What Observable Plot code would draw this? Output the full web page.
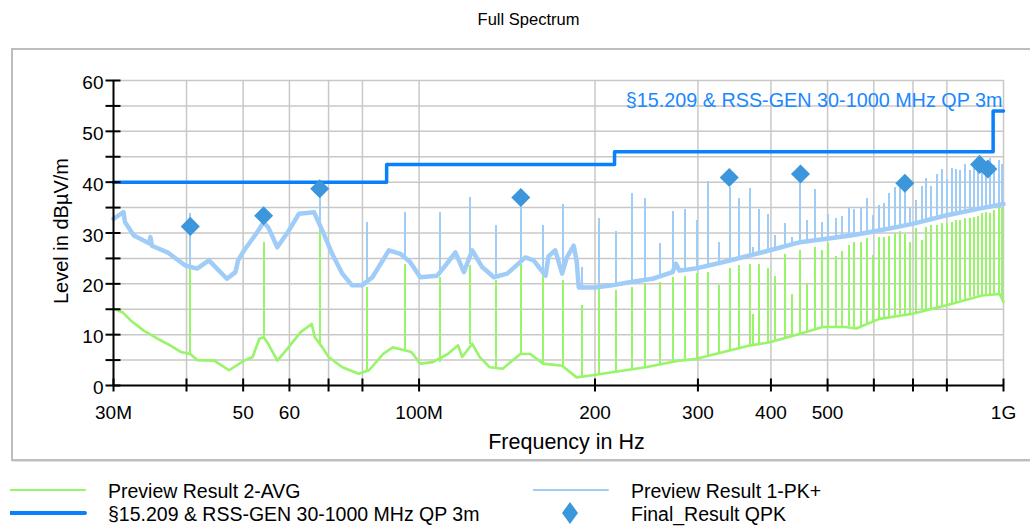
<!DOCTYPE html>
<html>
<head>
<meta charset="utf-8">
<script src="https://cdn.jsdelivr.net/npm/d3@7"></script>
<script src="https://cdn.jsdelivr.net/npm/@observablehq/plot@0.6"></script>
<style>
  html, body { margin: 0; padding: 0; background: #fff; }
  #wrap { position: relative; width: 1030px; height: 527px; overflow: hidden; font-family: 'Liberation Sans', Arial, sans-serif; }
  #frame { position: absolute; left: 11px; top: 48px; width: 1040px; height: 409px; border: 2px solid #bdbdbd; box-shadow: 1px 1px 0 #e2e2e2; pointer-events: none; }
  .lg { position: absolute; font-size: 19.5px; color: #000; white-space: nowrap; line-height: 22px; }
  .sw { position: absolute; }
</style>
</head>
<body>
<div id="wrap"></div>
<script>
// ---------- data ----------
const title = "Full Spectrum";
const xTitle = "Frequency in Hz";
const yTitle = "Level in dBµV/m";
const limitName = "§15.209 & RSS-GEN 30-1000 MHz QP 3m";
const avgName = "Preview Result 2-AVG";
const pkName = "Preview Result 1-PK+";
const qpkName = "Final_Result QPK";

const xDomain = [30, 1000];   // MHz
const yDomain = [0, 60];      // dBµV/m
const xTickFreqs = [30, 40, 50, 60, 70, 80, 100, 200, 300, 400, 500, 600, 700, 800, 1000];
const xGridFreqs = [40, 50, 60, 70, 80, 100, 200, 300, 400, 500, 600, 700, 800, 1000];
const xLabelFreqs = [30, 50, 60, 80, 100, 200, 300, 400, 500, 800, 1000];
const xLabels = ["30M", "50", "60", "80", "100M", "200", "300", "400", "500", "800", "1G"];
const yTickVals = [0, 5, 10, 15, 20, 25, 30, 35, 40, 45, 50, 55, 60];
const yGridVals = [5, 10, 15, 20, 25, 30, 35, 40, 45, 50, 55, 60];
const yLabelVals = [0, 10, 20, 30, 40, 50, 60];

// Preview Result 1-PK+ (underlying trace)
const pkFreq = [30, 31.2, 31.4, 32.5, 34.5, 34.7, 34.9, 37.1, 39.8, 41.7, 43.7, 45.1, 46.9, 48.5, 49.0, 50.2, 52.6, 54.2, 55.2, 57.2, 59.9, 62.3, 66.1, 68.3, 71.0, 73.9, 76.8, 79.8, 83.2, 88.8, 92.9, 96.5, 100.5, 107.4, 110.9, 115.4, 119.3, 123.3, 128.2, 134.3, 141.5, 152, 157, 164.6, 166.5, 171, 175.7, 179, 183.9, 186, 187.6, 200, 213.9, 228.9, 250.9, 271.5, 275, 279, 297, 332, 398.6, 449, 548, 612.7, 699, 793, 909, 1000];
const pkLevel = [32.8, 34.1, 32.1, 29.5, 28.0, 29.2, 27.5, 26.2, 23.6, 23.0, 24.6, 23.0, 21.0, 22.3, 24.6, 26.6, 29.8, 32.1, 31.1, 27.2, 30.5, 33.8, 34.1, 30.5, 25.9, 22.0, 19.7, 19.7, 21.3, 26.6, 25.9, 24.3, 21.3, 21.6, 23.6, 26.2, 22.3, 26.6, 23.3, 21.3, 22.0, 25.2, 24.6, 21.6, 25.4, 26.6, 22.0, 25.2, 27.5, 24.6, 19.3, 19.3, 19.7, 20.3, 21.0, 22.3, 24.0, 22.6, 23.0, 24.3, 26.6, 28.2, 29.5, 30.5, 31.8, 33.4, 34.8, 35.7];

// Preview Result 2-AVG (underlying trace)
const avgFreq = [30, 31.1, 32.1, 33.8, 36.1, 37.5, 39.1, 40.6, 41.7, 44.6, 47.3, 50.2, 51.9, 53.3, 54.2, 55.2, 57.2, 59.5, 62.7, 65.5, 66.3, 68.3, 70, 73.9, 78.8, 82.1, 86.8, 90.1, 94.8, 97, 100.5, 105.5, 112, 116.6, 118.5, 123.3, 127, 132, 139, 149, 155, 163, 175.7, 186, 198, 214, 244, 279, 297, 332, 369, 398, 449, 490, 537, 560, 613, 699, 793, 918, 985, 1000];
const avgLevel = [15.1, 14.4, 12.8, 10.8, 8.9, 7.9, 6.6, 6.2, 5.0, 4.9, 3.0, 4.9, 5.6, 9.2, 9.5, 8.2, 4.9, 7.2, 10.5, 12.1, 9.5, 7.5, 5.6, 3.6, 2.3, 3.0, 6.2, 7.5, 6.9, 6.6, 4.3, 4.6, 6.2, 7.9, 5.6, 8.2, 5.6, 3.6, 3.3, 6.2, 6.2, 4.3, 3.9, 1.6, 2.0, 2.6, 3.6, 4.9, 5.2, 6.6, 7.9, 8.5, 10.2, 11.5, 11.5, 11.2, 13.1, 14.1, 15.7, 17.7, 18.0, 16.4];

// narrowband spikes: frequency, AVG floor/top, PK floor/top
const spikeFreq    = [40.6, 54.2, 67.8, 81.4, 94.6, 108.4, 122.1, 135.6, 149.3, 163, 176.5, 190.3, 203, 217, 231, 244, 258, 271.5, 285, 299, 312.5, 326, 340, 353, 368, 372, 381, 395, 407, 422, 434, 449, 461, 475, 489, 501, 516, 530, 543, 554, 571, 585, 598, 613, 624, 638, 652, 665, 678, 693, 709, 724, 738, 753, 770, 785, 801, 815, 830, 844, 859, 875, 890, 905, 920, 934, 950, 965, 982, 995];
const spikeAvgBase = [6.0, 9.5, 8.0, 3.0, 6.9, 4.6, 8.0, 3.5, 6.2, 4.3, 3.9, 1.7, 2.2, 2.6, 3.2, 3.6, 4.0, 4.6, 5.0, 5.2, 5.7, 6.3, 6.8, 7.3, 7.8, 7.9, 8.0, 8.4, 8.8, 9.4, 9.8, 10.2, 10.6, 11.0, 11.4, 11.5, 11.6, 11.7, 11.6, 11.3, 11.5, 12.0, 12.5, 13.1, 13.3, 13.5, 13.7, 13.9, 14.0, 14.1, 14.4, 14.7, 15.0, 15.2, 15.4, 15.6, 15.8, 16.1, 16.4, 16.7, 17.0, 17.3, 17.5, 17.7, 17.7, 17.8, 17.9, 18.0, 17.8, 16.8];
const spikeAvgTop  = [23.3, 28.2, 31.1, 19.3, 23.9, 21.3, 23.6, 20.7, 23.9, 21.6, 20.7, 15.7, 19.0, 18.7, 19.3, 20.0, 20.3, 21.3, 21.4, 22.0, 22.3, 19.7, 23.0, 23.6, 23.9, 14.0, 23.9, 23.0, 21.4, 25.8, 18.0, 26.6, 20.0, 27.1, 26.6, 27.9, 25.4, 26.4, 27.5, 28.2, 28.2, 29.0, 25.6, 29.1, 29.1, 29.3, 30.0, 30.2, 29.8, 28.2, 30.8, 28.5, 31.1, 31.5, 31.5, 31.9, 31.9, 32.1, 32.5, 32.5, 32.8, 32.8, 33.1, 33.2, 33.8, 34.1, 33.9, 34.4, 34.8, 35.1];
const spikePkBase  = [23.3, 32.1, 30.5, 19.8, 25.0, 21.6, 25.5, 21.3, 24.5, 21.6, 22.5, 19.3, 19.5, 19.7, 20.3, 20.8, 21.2, 22.3, 22.6, 22.8, 23.3, 24.0, 24.4, 24.8, 25.2, 25.3, 25.7, 26.4, 26.8, 27.3, 27.7, 28.1, 28.3, 28.5, 28.8, 29.0, 29.1, 29.2, 29.3, 29.5, 29.8, 30.1, 30.3, 30.5, 30.7, 31.0, 31.2, 31.4, 31.6, 31.8, 32.0, 32.2, 32.5, 32.7, 33.0, 33.2, 33.5, 33.7, 33.9, 34.0, 34.2, 34.4, 34.6, 34.8, 35.0, 35.1, 35.3, 35.5, 35.6, 35.7];
const spikePkTop   = [33.8, 33.4, 37.5, 32.1, 34.0, 34.1, 37.0, 31.5, 36.5, 31.5, 35.7, 23.3, 32.8, 30.2, 37.8, 36.7, 27.9, 34.2, 34.6, 32.5, 40.2, 28.2, 39.0, 36.7, 38.8, 27.1, 34.6, 33.6, 29.5, 31.8, 29.2, 40.5, 32.5, 38.5, 32.1, 33.6, 32.8, 33.2, 35.0, 34.6, 35.0, 36.7, 33.4, 35.4, 35.9, 37.8, 38.9, 39.7, 38.4, 34.9, 36.4, 39.2, 40.7, 39.2, 41.5, 42.4, 40.5, 42.6, 42.4, 42.2, 43.5, 42.3, 42.8, 43.9, 44.4, 43.9, 44.6, 43.3, 44.3, 43.5];

// §15.209 limit (step after each frequency)
const limitFreq = [30, 88, 216, 960, 1000];
const limitLevel = [40, 43.5, 46, 54, 54];

// Final_Result QPK
const qpkFreq = [40.6, 54.2, 67.6, 149.3, 339.4, 449.4, 678, 910, 940];
const qpkLevel = [31.3, 33.4, 38.7, 37.0, 40.9, 41.6, 39.8, 43.5, 42.6];

// ---------- styles ----------
const cAvg = "#98f468", cPk = "#a0ccf8", cLimit = "#0a80fa", cQpk = "#3b96dc", cGrid = "#c8c8c8";

// ---------- tables ----------
const pk = pkFreq.map((f, i) => ({f, v: pkLevel[i]}));
const avg = avgFreq.map((f, i) => ({f, v: avgLevel[i]}));
const spikes = spikeFreq.map((f, i) => ({f, a0: spikeAvgBase[i], a1: spikeAvgTop[i], p0: spikePkBase[i], p1: spikePkTop[i]}));
const limit = limitFreq.map((f, i) => ({f, v: limitLevel[i]}));
const qpk = qpkFreq.map((f, i) => ({f, v: qpkLevel[i]}));
const labelMap = new Map(xLabelFreqs.map((f, i) => [f, xLabels[i]]));

const chart = Plot.plot({
  width: 1030,
  height: 527,
  marginLeft: 113,
  marginRight: 27,
  marginTop: 80,
  marginBottom: 142,
  style: {fontFamily: "'Liberation Sans', Arial, sans-serif", fontSize: "19px", background: "transparent", overflow: "visible"},
  x: {type: "log", domain: xDomain},
  y: {domain: yDomain},
  marks: [
    Plot.ruleY(yGridVals, {stroke: cGrid, strokeWidth: 1.5}),
    Plot.ruleX(xGridFreqs, {stroke: cGrid, strokeWidth: 1.5}),
    Plot.text([limitName], {frameAnchor: "top-right", textAnchor: "end", lineAnchor: "middle", dx: -1, dy: 20, fill: "#1a88ff", fontSize: 19.8}),
    Plot.line(avg, {x: "f", y: "v", stroke: cAvg, strokeWidth: 2.6}),
    Plot.ruleX(spikes, {x: "f", y1: "a0", y2: "a1", stroke: cAvg, strokeWidth: 2, shapeRendering: "crispEdges"}),
    Plot.line(pk, {x: "f", y: "v", stroke: cPk, strokeWidth: 4.5}),
    Plot.ruleX(spikes, {x: "f", y1: d => Math.max(d.a1, d.p0), y2: "p1", stroke: cPk, strokeWidth: 2, shapeRendering: "crispEdges"}),
    Plot.line(limit, {x: "f", y: "v", curve: "step-after", stroke: cLimit, strokeWidth: 3.5}),
    Plot.dot(qpk, {x: "f", y: "v", symbol: "square", rotate: 45, r: 7.6, fill: cQpk}),
    Plot.ruleX([xDomain[0]], {stroke: "#000", strokeWidth: 2}),
    Plot.ruleY([yDomain[0]], {stroke: "#000", strokeWidth: 2}),
    Plot.axisX(xTickFreqs, {tickSize: 13, dy: -6.5, tickFormat: () => "", label: null, strokeWidth: 2}),
    Plot.axisX(xLabelFreqs, {tickSize: 0, tickPadding: 20, tickFormat: d => labelMap.get(d), label: null, fontSize: 19}),
    Plot.axisY(yTickVals, {tickSize: 15, dx: 7.5, tickFormat: () => "", label: null, strokeWidth: 2}),
    Plot.axisY(yLabelVals, {tickSize: 0, tickPadding: 10, dy: 2.5, label: null, fontSize: 19}),
    Plot.text([xTitle], {frameAnchor: "bottom", textAnchor: "middle", lineAnchor: "middle", dx: 8, dy: 57, fontSize: 21.5}),
    Plot.text([yTitle], {frameAnchor: "left", textAnchor: "middle", rotate: -90, lineAnchor: "middle", dx: -52, dy: -2, fontSize: 20}),
    Plot.text([title], {frameAnchor: "top", textAnchor: "middle", lineAnchor: "middle", dx: -30, dy: -61, fontSize: 16.5})
  ]
});

const wrap = document.getElementById("wrap");
wrap.appendChild(chart);
const frame = document.createElement("div");
frame.id = "frame";
wrap.appendChild(frame);

// legend
const legend = [
  {name: avgName, x: 10, y: 490, type: "line", color: cAvg, w: 2},
  {name: pkName, x: 533, y: 490, type: "line", color: cPk, w: 2},
  {name: limitName, x: 10, y: 513, type: "line", color: cLimit, w: 4},
  {name: qpkName, x: 533, y: 513, type: "diamond", color: cQpk}
];
for (const it of legend) {
  const s = document.createElementNS("http://www.w3.org/2000/svg", "svg");
  s.setAttribute("class", "sw");
  s.setAttribute("width", 80); s.setAttribute("height", 24);
  s.style.left = it.x + "px"; s.style.top = (it.y - 12) + "px";
  if (it.type === "line") {
    s.innerHTML = `<line x1="0" x2="75" y1="12" y2="12" stroke="${it.color}" stroke-width="${it.w}" stroke-linecap="round"/>`;
  } else {
    s.innerHTML = `<path d="M37,1 L45,12 L37,23 L29,12 Z" fill="${it.color}"/>`;
  }
  wrap.appendChild(s);
  const t = document.createElement("div");
  t.className = "lg";
  t.textContent = it.name;
  t.style.left = (it.x + 98) + "px";
  t.style.top = (it.y - 10) + "px";
  wrap.appendChild(t);
}
</script>
</body>
</html>
